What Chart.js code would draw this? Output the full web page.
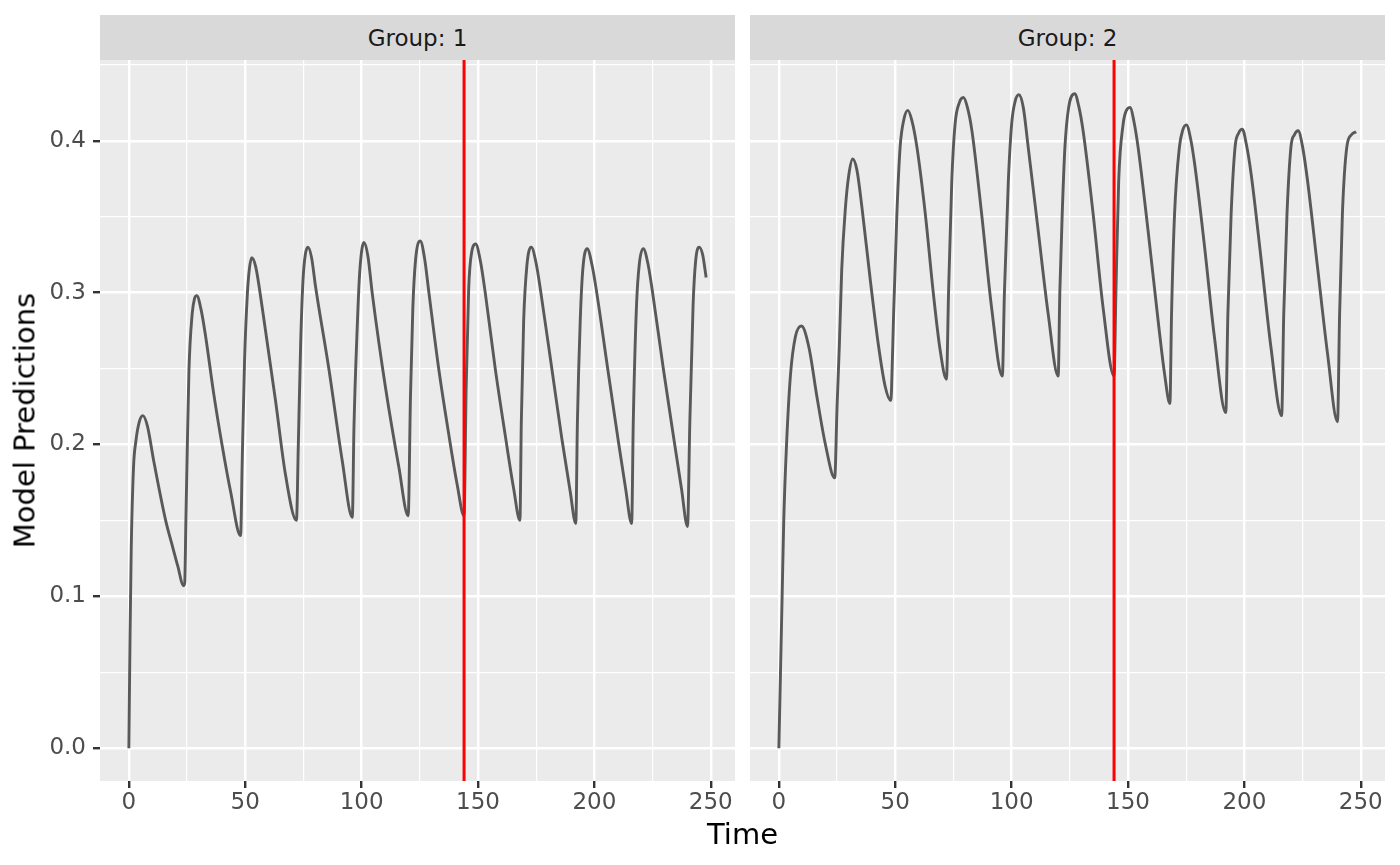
<!DOCTYPE html>
<html>
<head>
<meta charset="utf-8">
<script src="https://cdn.jsdelivr.net/npm/chart.js@4.4.1/dist/chart.umd.min.js"></script>
<style>
  html, body { margin: 0; padding: 0; background: #FFFFFF; }
  body { width: 1400px; height: 865px; position: relative; overflow: hidden; font-family: "DejaVu Sans", sans-serif; }
  .strip { position: absolute; top: 15px; height: 45px; background: #D9D9D9; color: #1A1A1A;
           font-size: 23px; display: flex; align-items: center; justify-content: center; }
  .box { position: absolute; top: 60px; height: 805px; }
  #xtitle { position: absolute; left: 0; width: 1485px; top: 820px; text-align: center;
            font-size: 29px; line-height: 29px; color: #000000; }
  #ytitle { position: absolute; left: -175px; top: 406px; width: 400px; height: 29px; line-height: 29px;
            text-align: center; font-size: 29px; color: #000000; transform: rotate(-90deg); }
</style>
</head>
<body>
<div class="strip" style="left:100px; width:635px;">Group: 1</div>
<div class="strip" style="left:750px; width:635px;">Group: 2</div>
<div class="box" style="left:0px; width:735px;"><canvas id="chart1"></canvas></div>
<div class="box" style="left:750px; width:635px;"><canvas id="chart2"></canvas></div>
<div id="xtitle">Time</div>
<div id="ytitle">Model Predictions</div>
<script>
// values
const group1Time = [0, 0.5, 1, 2, 3, 4.5, 6, 8, 10.7, 15.8, 18.9, 21, 23.5,
  24, 24.5, 25, 25.8, 27.2, 28.2, 29.2, 31, 33, 36.5, 40, 43.7, 48,
  48.7, 49.7, 50.9, 51.8, 52.8, 54.5, 57.3, 63, 67.3, 72,
  72.8, 73.8, 74.8, 75.8, 76.9, 78.5, 80.2, 85.9, 91.7, 96,
  96.7, 98.1, 99.2, 101, 102.7, 104.6, 110.3, 116, 120,
  121, 122, 123.2, 125.2, 127, 128.9, 133.1, 137.4, 141, 144,
  144.9, 146, 147.2, 149, 151, 153.1, 157.4, 161.7, 165.3, 168,
  168.6, 169.6, 171, 172.9, 175, 177, 181.7, 186, 189.6, 192,
  192.7, 193.9, 195, 196.9, 199, 201, 205.7, 210.3, 213.4, 216,
  216.7, 218.1, 219.3, 221, 223, 225, 229.6, 234.3, 237.4, 240,
  241, 242.4, 243.5, 245, 246.5, 248];
const group1Pred = [0, 0.073, 0.13, 0.185, 0.202, 0.215, 0.219, 0.212, 0.189, 0.15, 0.132, 0.12, 0.107,
  0.109, 0.15, 0.19, 0.248, 0.286, 0.296, 0.298, 0.289, 0.271, 0.233, 0.2, 0.169, 0.14,
  0.189, 0.255, 0.299, 0.316, 0.323, 0.317, 0.29, 0.229, 0.18, 0.15,
  0.2, 0.266, 0.308, 0.325, 0.33, 0.323, 0.304, 0.25, 0.189, 0.152,
  0.211, 0.277, 0.314, 0.333, 0.324, 0.299, 0.237, 0.185, 0.153,
  0.233, 0.29, 0.322, 0.334, 0.323, 0.3, 0.25, 0.207, 0.174, 0.153,
  0.237, 0.303, 0.326, 0.332, 0.321, 0.3, 0.25, 0.206, 0.171, 0.15,
  0.215, 0.281, 0.318, 0.33, 0.319, 0.3, 0.25, 0.204, 0.169, 0.148,
  0.215, 0.281, 0.315, 0.329, 0.318, 0.3, 0.25, 0.202, 0.171, 0.148,
  0.215, 0.292, 0.319, 0.329, 0.319, 0.3, 0.25, 0.202, 0.171, 0.146,
  0.215, 0.292, 0.321, 0.33, 0.325, 0.31];

const group2Time = [0, 0.7, 1.4, 2.1, 3.3, 5, 7.1, 9.7, 12.9, 16.4, 20, 24,
  25, 26, 27, 28.6, 30, 31.7, 33.5, 35.7, 39.3, 42.9, 45.7, 48,
  48.4, 49.3, 50.7, 52.1, 53.7, 55.4, 57.2, 59.3, 62.9, 66.4, 69.3, 72,
  72.9, 74.3, 75.7, 77.5, 79.3, 81, 82.9, 87.1, 91.4, 96,
  96.9, 98.6, 100, 101.5, 103.1, 105, 107.1, 111.4, 115.7, 120,
  120.7, 121.8, 122.9, 124.5, 127.1, 128.8, 130.7, 135, 139.3, 144,
  144.8, 146, 147.9, 149.3, 151, 152.5, 154.3, 158.6, 162.9, 165.7, 168,
  168.7, 170, 172.1, 173.5, 175.1, 176.8, 178.6, 182.9, 187.1, 192,
  192.9, 194.3, 196, 197.5, 199.1, 200.8, 202.9, 207.1, 211.4, 216,
  216.9, 218.3, 220, 221.5, 223.1, 225, 227.1, 231.4, 235.7, 240,
  240.9, 242.1, 244, 246, 248];
const group2Pred = [0, 0.05, 0.1, 0.15, 0.2, 0.246, 0.271, 0.278, 0.264, 0.231, 0.2, 0.178,
  0.225, 0.266, 0.315, 0.356, 0.377, 0.388, 0.381, 0.356, 0.308, 0.264, 0.238, 0.229,
  0.236, 0.286, 0.352, 0.396, 0.414, 0.42, 0.413, 0.396, 0.352, 0.299, 0.262, 0.243,
  0.3, 0.374, 0.411, 0.425, 0.4285, 0.422, 0.407, 0.352, 0.29, 0.245,
  0.3, 0.374, 0.411, 0.426, 0.4303, 0.422, 0.396, 0.341, 0.286, 0.245,
  0.3, 0.355, 0.396, 0.422, 0.431, 0.423, 0.4066, 0.352, 0.29, 0.245,
  0.3, 0.374, 0.411, 0.42, 0.422, 0.413, 0.396, 0.341, 0.282, 0.2465, 0.227,
  0.286, 0.352, 0.396, 0.407, 0.4105, 0.402, 0.385, 0.33, 0.271, 0.221,
  0.286, 0.352, 0.396, 0.405, 0.4077, 0.398, 0.378, 0.323, 0.264, 0.219,
  0.286, 0.352, 0.396, 0.404, 0.4066, 0.396, 0.374, 0.317, 0.26, 0.215,
  0.286, 0.352, 0.396, 0.404, 0.406];

const refTime = 144;

const xTicks = [0, 25, 50, 75, 100, 125, 150, 175, 200, 225, 250];
const xLabels = [0, 50, 100, 150, 200, 250];
const yTicks = [0, 0.05, 0.1, 0.15, 0.2, 0.25, 0.3, 0.35, 0.4, 0.45];
const yLabels = [0, 0.1, 0.2, 0.3, 0.4];

const xMin = -12.4, xMax = 260.4;
const yMin = -0.0216, yMax = 0.4532;

Chart.defaults.font.family = "DejaVu Sans";

function isMajor(list, v) {
  return list.some(m => Math.abs(m - v) < 1e-9);
}

const panelPlugin = {
  id: 'panel',
  beforeDraw(chart) {
    const {ctx, chartArea} = chart;
    ctx.save();
    ctx.fillStyle = '#EBEBEB';
    ctx.fillRect(chartArea.left, chartArea.top, chartArea.right - chartArea.left, chartArea.bottom - chartArea.top);
    ctx.restore();
  },
  afterDatasetsDraw(chart) {
    const {ctx, chartArea} = chart;
    const px = chart.scales.x.getPixelForValue(refTime);
    ctx.save();
    ctx.strokeStyle = '#FF0000';
    ctx.lineWidth = 3;
    ctx.beginPath();
    ctx.moveTo(px, chartArea.top);
    ctx.lineTo(px, chartArea.bottom);
    ctx.stroke();
    ctx.restore();
  }
};

function makeChart(id, times, preds, showY) {
  const points = times.map((t, i) => ({x: t, y: preds[i]}));
  return new Chart(document.getElementById(id), {
    type: 'line',
    data: {
      datasets: [{
        data: points,
        borderColor: '#595959',
        borderWidth: 2.9,
        pointRadius: 0,
        fill: false,
        cubicInterpolationMode: 'monotone'
      }]
    },
    options: {
      responsive: true,
      maintainAspectRatio: false,
      animation: false,
      layout: { padding: 0 },
      plugins: { legend: { display: false }, tooltip: { enabled: false } },
      scales: {
        x: {
          type: 'linear',
          min: xMin,
          max: xMax,
          afterBuildTicks: ax => { ax.ticks = xTicks.map(v => ({value: v})); },
          afterFit: s => { s.height = 84; s.paddingLeft = 0; s.paddingRight = 0; },
          border: { display: false },
          grid: {
            color: '#FFFFFF',
            lineWidth: c => isMajor(xLabels, c.tick.value) ? 2.4 : 1.2,
            tickColor: c => isMajor(xLabels, c.tick.value) ? '#333333' : 'rgba(0,0,0,0)',
            tickWidth: 2.4,
            tickLength: 7
          },
          ticks: {
            autoSkip: false,
            maxRotation: 0,
            padding: 1,
            color: '#4D4D4D',
            font: { size: 23 },
            callback: v => isMajor(xLabels, v) ? String(v) : ''
          }
        },
        y: {
          type: 'linear',
          min: yMin,
          max: yMax,
          afterBuildTicks: ax => { ax.ticks = yTicks.map(v => ({value: v})); },
          afterFit: s => { s.width = showY ? 100 : 0; s.paddingTop = 0; s.paddingBottom = 0; },
          border: { display: false },
          grid: {
            color: '#FFFFFF',
            lineWidth: c => isMajor(yLabels, c.tick.value) ? 2.4 : 1.2,
            tickColor: c => isMajor(yLabels, c.tick.value) ? '#333333' : 'rgba(0,0,0,0)',
            tickWidth: 2.4,
            tickLength: 7,
            drawTicks: showY
          },
          ticks: {
            display: showY,
            padding: 7,
            color: '#4D4D4D',
            font: { size: 23 },
            callback: v => isMajor(yLabels, v) ? v.toFixed(1) : ''
          }
        }
      }
    },
    plugins: [panelPlugin]
  });
}

makeChart('chart1', group1Time, group1Pred, true);
makeChart('chart2', group2Time, group2Pred, false);
</script>
</body>
</html>
